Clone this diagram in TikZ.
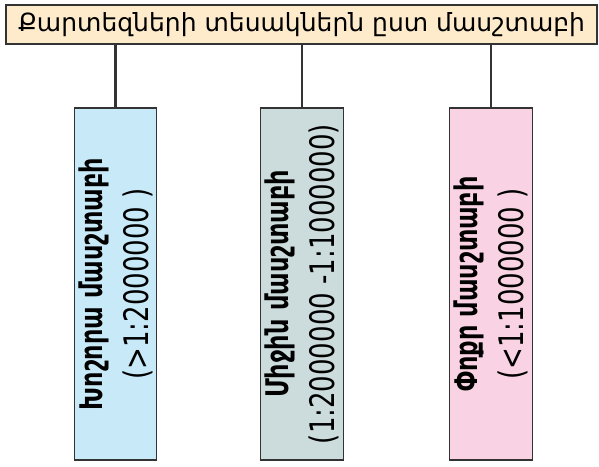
\documentclass[tikz,border=0pt]{standalone}
\usepackage{fontspec}
\setmainfont{DejaVu Sans}
\definecolor{topfill}{HTML}{FDEBCB}
\definecolor{bluefill}{HTML}{C8EAF8}
\definecolor{greyfill}{HTML}{CCDCDC}
\definecolor{pinkfill}{HTML}{F9D3E3}
\definecolor{edge}{HTML}{333333}
\newcommand{\headline}[1]{{\fontsize{24}{46}\selectfont\bfseries\scalebox{1}[1.3]{#1}}}
\newcommand{\scaleline}[1]{{\fontsize{26}{46}\selectfont\scalebox{1}[1.3]{#1}}}
\tikzset{
  topbox/.style={draw=edge, line width=1.3pt, fill=topfill, inner sep=0pt,
    minimum width=591pt, minimum height=39pt, font=\fontsize{25}{30}\selectfont},
  catbox/.style={draw=edge, line width=1.3pt, inner sep=0pt, rotate=90,
    minimum width=352pt, minimum height=82.5pt, align=center,
    font=\fontsize{24}{46}\selectfont},
  link/.style={draw=edge, line width=2.5pt}
}
\begin{document}
\begin{tikzpicture}[x=1pt,y=-1pt]
\useasboundingbox (0,0) rectangle (599,466);
\node[topbox] (top) at (301.5,24.5) {Քարտեզների տեսակներն ըստ մասշտաբի};
\node[catbox, fill=bluefill] (b1) at (115.5,284) {\headline{Խոշորա մասշտաբի}\\\scaleline{(>1:2000000 )}};
\node[catbox, fill=greyfill] (b2) at (302,284) {\headline{Միջին մասշտաբի}\\\scaleline{(1:2000000 -1:1000000)}};
\node[catbox, fill=pinkfill] (b3) at (491,284) {\headline{Փոքր մասշտաբի}\\\scaleline{(<1:1000000 )}};
\draw[link] (b1.east) -- (b1.east |- top.south);
\draw[link] (b2.east) -- (b2.east |- top.south);
\draw[link] (b3.east) -- (b3.east |- top.south);
\end{tikzpicture}
\end{document}
